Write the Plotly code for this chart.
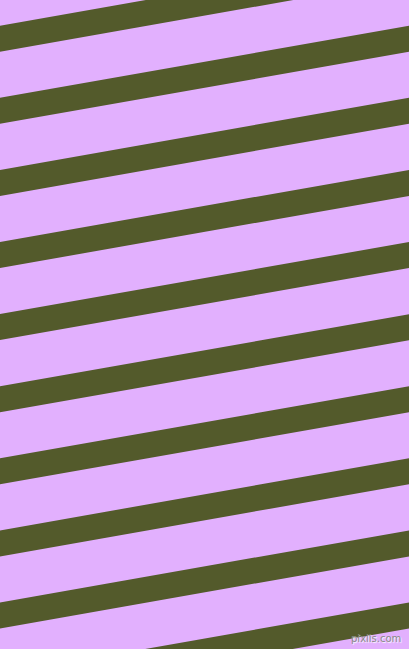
import plotly.graph_objects as go

W, H = 409, 649

# olive stripe top edges where they meet the left border (px from top)
stripe_tops = [-46.4, 25.7, 97.8, 169.9, 242.0, 314.1, 386.3, 458.3, 530.4, 602.5, 674.6]
rise_across = 72.1      # how far a stripe climbs from left to right edge
stripe_height = 26.0    # vertical thickness of each olive stripe

bg_color = "#E2B0FE"
stripe_color = "#535A2B"

fig = go.Figure()

for top in stripe_tops:
    xs = [0, W, W, 0, 0]
    ys = [top, top - rise_across, top - rise_across + stripe_height, top + stripe_height, top]
    fig.add_trace(go.Scatter(
        x=xs, y=ys, mode="lines", fill="toself",
        fillcolor=stripe_color, line=dict(width=0, color=stripe_color),
        hoverinfo="skip", showlegend=False,
    ))

fig.add_annotation(
    x=W - 6, y=H - 3, xanchor="right", yanchor="bottom",
    text="pixlis.com", showarrow=False,
    font=dict(family="DejaVu Sans", size=10, color="#8a8a8a",
              shadow="1px 1px 1px #ffffff"),
)

fig.update_layout(
    width=W, height=H,
    margin=dict(l=0, r=0, t=0, b=0),
    paper_bgcolor=bg_color, plot_bgcolor=bg_color,
    xaxis=dict(range=[0, W], visible=False, fixedrange=True),
    yaxis=dict(range=[H, 0], visible=False, fixedrange=True),
)

# drop the default page margin so the figure fills the window
fig.write_html(
    "out.html",
    config={"displayModeBar": False},
    post_script="document.body.style.margin='0';document.body.style.overflow='hidden';",
)
